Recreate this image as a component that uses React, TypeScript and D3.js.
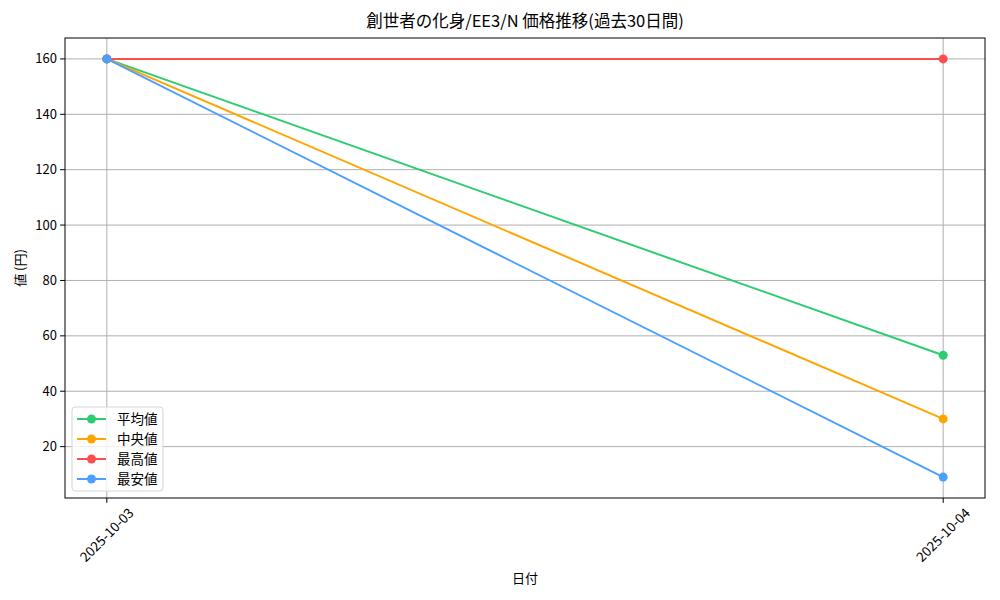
import React, { useEffect, useRef } from 'react'
import * as d3 from 'd3'

// data
const dates = ['2025-10-03', '2025-10-04']
const seriesNames = ['平均値', '中央値', '最高値', '最安値']
const avgValues = [160, 53]
const medianValues = [160, 30]
const maxValues = [160, 160]
const minValues = [160, 9]
const yTicks = [20, 40, 60, 80, 100, 120, 140, 160]
const seriesColors = ['#2ecc71', '#ffa500', '#ff4d4d', '#4d9fff']

const W = 1000, H = 600
const margin = { top: 38, right: 15, bottom: 102, left: 65 }
const FONT = '"Noto Sans CJK JP", "Noto Sans", sans-serif'

export default function App() {
    const ref = useRef<SVGSVGElement>(null)

    useEffect(() => {
        const svg = d3.select(ref.current)
        svg.selectAll('*').remove()

        const width = W - margin.left - margin.right
        const height = H - margin.top - margin.bottom
        const allSeries = [avgValues, medianValues, maxValues, minValues]

        // matplotlib style 5% margins
        const idx = dates.map((d, i) => i)
        const xPad = (idx.length - 1) * 0.05
        const x = d3.scaleLinear().domain([-xPad, idx.length - 1 + xPad]).range([0, width])
        const flat = allSeries.flat()
        const yMin = d3.min(flat), yMax = d3.max(flat)
        const yPad = (yMax - yMin) * 0.05
        const y = d3.scaleLinear().domain([yMin - yPad, yMax + yPad]).range([height, 0])

        const g = svg.append('g').attr('transform', `translate(${margin.left},${margin.top})`)

        // grid
        g.append('g').selectAll('line').data(yTicks).enter().append('line')
            .attr('x1', 0).attr('x2', width)
            .attr('y1', d => y(d)).attr('y2', d => y(d))
            .attr('stroke', '#b0b0b0').attr('stroke-width', 1)
        g.append('g').selectAll('line').data(idx).enter().append('line')
            .attr('x1', d => x(d)).attr('x2', d => x(d))
            .attr('y1', 0).attr('y2', height)
            .attr('stroke', '#b0b0b0').attr('stroke-width', 1)

        // lines + markers
        const line = d3.line<number>().x((d, i) => x(i)).y(d => y(d))
        allSeries.forEach((vals, si) => {
            g.append('path').datum(vals)
                .attr('d', line)
                .attr('fill', 'none')
                .attr('stroke', seriesColors[si])
                .attr('stroke-width', 2)
            g.append('g').selectAll('circle').data(vals).enter().append('circle')
                .attr('cx', (d, i) => x(i)).attr('cy', d => y(d))
                .attr('r', 4.5).attr('fill', seriesColors[si])
        })

        // frame
        g.append('rect').attr('width', width).attr('height', height)
            .attr('fill', 'none').attr('stroke', 'black').attr('stroke-width', 1)

        // y ticks
        const yt = g.append('g').selectAll('g').data(yTicks).enter().append('g')
            .attr('transform', d => `translate(0,${y(d)})`)
        yt.append('line').attr('x1', -4.9).attr('x2', 0).attr('stroke', 'black')
        yt.append('text').attr('x', -8).attr('dy', '0.35em')
            .attr('text-anchor', 'end').attr('font-size', 13).attr('font-family', FONT)
            .text(d => d)

        // x ticks
        const xt = g.append('g').selectAll('g').data(idx).enter().append('g')
            .attr('transform', d => `translate(${x(d)},${height})`)
        xt.append('line').attr('y1', 0).attr('y2', 4.9).attr('stroke', 'black')
        xt.append('text')
            .attr('transform', 'translate(0,37) rotate(-45)')
            .attr('text-anchor', 'middle').attr('dy', '0.35em')
            .attr('font-size', 13.5).attr('font-family', FONT)
            .text(d => dates[d])

        // titles
        svg.append('text').attr('x', margin.left + width / 2).attr('y', 27)
            .attr('text-anchor', 'middle').attr('font-size', 16.5).attr('font-family', FONT)
            .text('創世者の化身/EE3/N 価格推移(過去30日間)')
        svg.append('text').attr('x', margin.left + width / 2).attr('y', 583)
            .attr('text-anchor', 'middle').attr('font-size', 13).attr('font-family', FONT)
            .text('日付')
        svg.append('text')
            .attr('transform', `translate(25,${margin.top + height / 2}) rotate(-90)`)
            .attr('text-anchor', 'middle').attr('font-size', 13).attr('font-family', FONT)
            .text('値 (円)')

        // legend
        const lg = g.append('g').attr('transform', `translate(7,${height - 91})`)
        lg.append('rect').attr('width', 91).attr('height', 84).attr('rx', 3)
            .attr('fill', 'white').attr('fill-opacity', 0.8)
            .attr('stroke', '#d6d6d6').attr('stroke-width', 1)
        const items = lg.selectAll('.item').data(seriesNames).enter().append('g')
            .attr('class', 'item')
            .attr('transform', (d, i) => `translate(0,${12 + i * 20})`)
        items.append('line').attr('x1', 5).attr('x2', 34)
            .attr('stroke', (d, i) => seriesColors[i]).attr('stroke-width', 2)
        items.append('circle').attr('cx', 19.5).attr('r', 4.5)
            .attr('fill', (d, i) => seriesColors[i])
        items.append('text').attr('x', 45).attr('dy', '0.35em')
            .attr('font-size', 13.5).attr('font-family', FONT)
            .text(d => d)
    }, [])

    return <svg ref={ref} width={W} height={H} style={{ display: 'block', position: 'absolute', left: 0, top: 0, background: 'white' }} />
}
